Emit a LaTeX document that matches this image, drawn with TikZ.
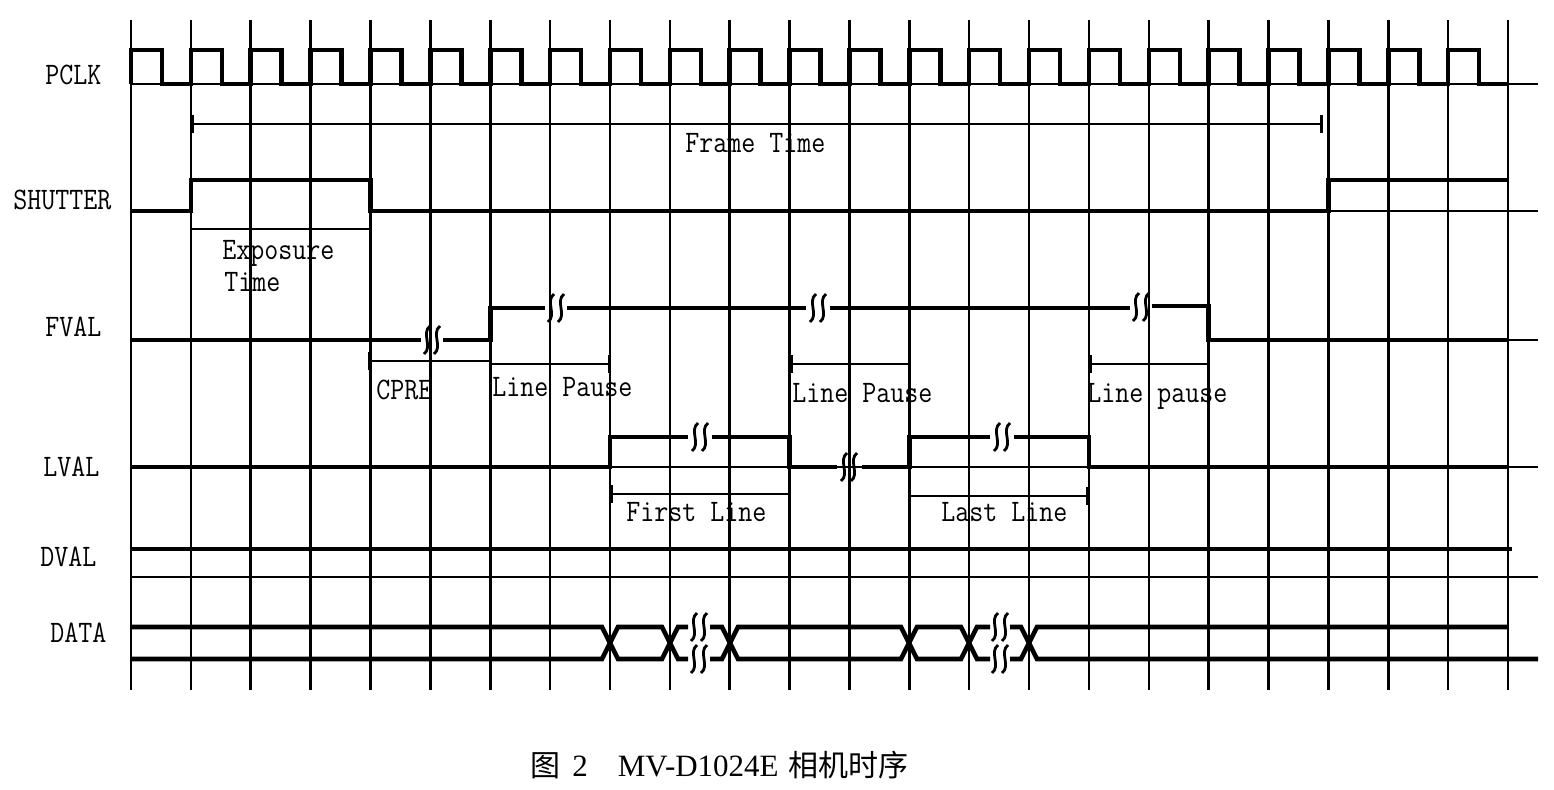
\documentclass[tikz,border=0pt]{standalone}
\usepackage{fontspec}
\setmainfont{Liberation Serif}
\newfontfamily\cjk{Noto Sans CJK SC}
\usetikzlibrary{arrows.meta}

\newcommand{\tall}[1]{\scalebox{1}[1.15]{#1}}

\tikzset{
  gridline/.style={line width=1.3pt},
  sig/.style={line width=2.3pt},
  base/.style={line width=1.1pt},
  span/.style={line width=1.1pt},
  lt/.style={span, {Bar[width=9pt,line width=1.6pt]}-},
  rt/.style={span, -{Bar[width=9pt,line width=1.6pt]}},
  bt/.style={span, {Bar[width=9pt,line width=1.6pt]}-{Bar[width=9pt,line width=1.6pt]}},
  lbl/.style={font=\fontsize{13.6}{16}\selectfont\ttfamily, inner sep=0pt, anchor=base west},
  pics/wavy/.style={code={
    \draw[line width=1.4pt] (-2,-14) .. controls (-11,-7) and (1,7) .. (-8,14);
    \draw[line width=1.4pt] (8,-14) .. controls (-1,-7) and (11,7) .. (2,14);
  }}
}

\begin{document}
\begin{tikzpicture}[x=0.5pt, y=-0.5pt]
  \useasboundingbox (0,0) rectangle (1554,789);
  % clock grid
  \foreach \i in {0,...,23}
    \draw[gridline] (131+59.87*\i,20) -- (131+59.87*\i,690);

  % signal names
  \node[lbl] (pclk) at (45,84) {\tall{PCLK}};
  \node[lbl] (shutter) at (13,209) {\tall{SHUTTER}};
  \node[lbl] (fval) at (45,336) {\tall{FVAL}};
  \node[lbl] (lval) at (43,476) {\tall{LVAL}};
  \node[lbl] (dval) at (40,566) {\tall{DVAL}};
  \node[lbl] (data) at (50,642) {\tall{DATA}};

  % PCLK
  \draw[base] (131,84) -- (1538,84);
  \draw[sig] (131,84) \foreach \i in {0,...,22} { -- ++(0,-34) -- ++(31,0) -- ++(0,34) -- ++(28.87,0) };
  \draw[bt] (191,124) -- (1323,124);
  \node[lbl] (ft) at (685,152) {\tall{Frame Time}};

  % SHUTTER
  \draw[base] (1328,211) -- (1538,211);
  \draw[sig] (131,211) -- (191,211) -- (191,180) -- (370.5,180) -- (370.5,211)
    -- (1328.4,211) -- (1328.4,180) -- (1508,180);
  \draw[span] (191,229) -- (370.5,229);
  \node[lbl] (exp) at (222,259) {\tall{Exposure}};
  \node[lbl] (expt) at (224,291) {\tall{Time}};

  % FVAL
  \draw[base] (1208,340) -- (1538,340);
  \draw[sig] (131,340) -- (421,340);
  \pic at (432,340) {wavy};
  \draw[sig] (443,340) -- (490.2,340) -- (490.2,308) -- (545,308);
  \pic at (556,308) {wavy};
  \draw[sig] (567,308) -- (806,308);
  \pic at (818,308) {wavy};
  \draw[sig] (830,308) -- (1130,308);
  \pic at (1141,307) {wavy};
  \draw[sig] (1152,306) -- (1208.7,306) -- (1208.7,340) -- (1508,340);
  \draw[lt] (368,361) -- (490.2,361);
  \node[lbl] (cpre) at (376,399) {\tall{CPRE}};
  \draw[rt] (490.2,364) -- (611,364);
  \node[lbl] (lp1) at (492,396) {\tall{Line Pause}};
  \draw[lt] (789.6,364) -- (909.3,364);
  \node[lbl] (lp2) at (792,402) {\tall{Line Pause}};
  \draw[lt] (1089,364) -- (1208.7,364);
  \node[lbl] (lp3) at (1087,402) {\tall{Line pause}};

  % LVAL
  \draw[base] (131,467) -- (1538,467);
  \draw[sig] (131,467) -- (610,467) -- (610,437) -- (688,437);
  \pic at (700,437) {wavy};
  \draw[sig] (712,437) -- (789.6,437) -- (789.6,467) -- (837,467);
  \pic at (849,467) {wavy};
  \draw[sig] (862,467) -- (909.3,467) -- (909.3,437) -- (990,437);
  \pic at (1002,437) {wavy};
  \draw[sig] (1014,437) -- (1089,437) -- (1089,467) -- (1508,467);
  \draw[lt] (610,494) -- (789.6,494);
  \node[lbl] (first) at (626,521) {\tall{First Line}};
  \draw[rt] (909.3,496) -- (1089,496);
  \node[lbl] (last) at (941,521) {\tall{Last Line}};

  % DVAL
  \draw[sig] (131,549) -- (1512,549);
  \draw[base] (131,577) -- (1538,577);

  % DATA
  \draw[sig] (131,627) -- (602,627) -- (618,659) -- (662,659) -- (678,627) -- (688,627);
  \draw[sig] (131,659) -- (602,659) -- (618,627) -- (662,627) -- (678,659) -- (688,659);
  \pic at (699,627) {wavy};
  \pic at (699,659) {wavy};
  \draw[sig] (710,627) -- (722,627) -- (738,659) -- (901,659) -- (917,627) -- (961,627) -- (977,659) -- (990,659);
  \draw[sig] (710,659) -- (722,659) -- (738,627) -- (901,627) -- (917,659) -- (961,659) -- (977,627) -- (990,627);
  \pic at (1000,627) {wavy};
  \pic at (1000,659) {wavy};
  \draw[sig] (1010,627) -- (1021,627) -- (1037,659) -- (1538,659);
  \draw[sig] (1010,659) -- (1021,659) -- (1037,627) -- (1508,627);

  % caption
  \node[font=\fontsize{15.5}{18}\selectfont, inner sep=0pt, anchor=base west] (cap) at (530,776)
    {{\fontsize{15}{18}\selectfont\cjk 图}\hspace{6pt}2\hspace{15pt}MV-D1024E\hspace{5pt}{\fontsize{15}{18}\selectfont\cjk 相机时序}};
\end{tikzpicture}
\end{document}
